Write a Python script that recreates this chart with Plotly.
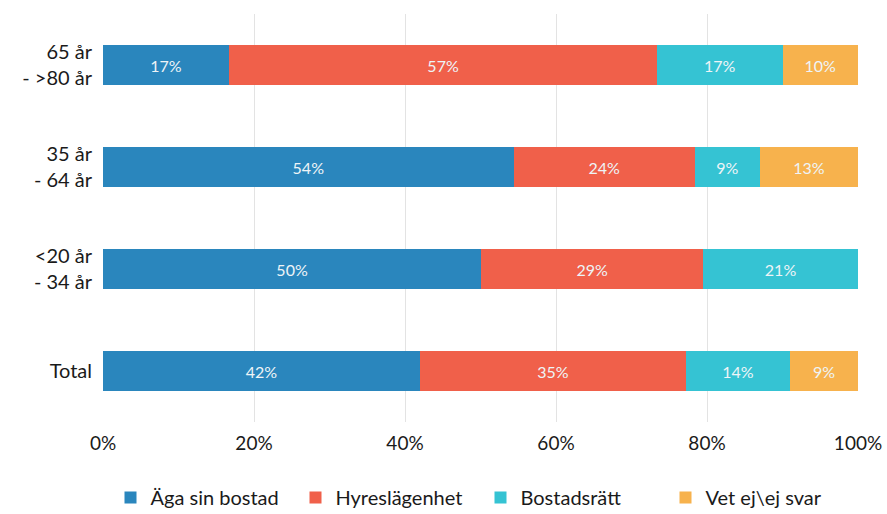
import plotly.graph_objects as go

# Age groups, top to bottom as drawn
categories = ["65 år<br>- >80 år", "35 år<br>- 64 år", "<20 år<br>- 34 år", "Total"]

series_names = ["Äga sin bostad", "Hyreslägenhet", "Bostadsrätt", "Vet ej\\ej svar"]

# Share of respondents per housing type (percent)
aga_sin_bostad = [16.7, 54.4, 50.1, 42.0]
hyreslagenhet = [56.7, 24.0, 29.4, 35.2]
bostadsratt = [16.6, 8.6, 20.5, 13.8]
vet_ej = [10.0, 13.0, None, 9.0]

tick_vals = [0, 20, 40, 60, 80, 100]
tick_text = ["0%", "20%", "40%", "60%", "80%", "100%"]

colors = ["#2A86BD", "#F0604A", "#35C3D3", "#F7B24D"]
series_values = [aga_sin_bostad, hyreslagenhet, bostadsratt, vet_ej]

fig = go.Figure()
for name, vals, col in zip(series_names, series_values, colors):
    fig.add_trace(go.Bar(
        y=categories,
        x=vals,
        name=name,
        orientation="h",
        marker=dict(color=col, line=dict(width=0)),
        texttemplate="%{x:.0f}%",
        textposition="inside",
        insidetextanchor="middle",
        textfont=dict(color="#EEF4F7", size=16, family="Lato, sans-serif"),
    ))

fig.update_layout(
    barmode="stack",
    bargap=0.6,
    width=887,
    height=514,
    margin=dict(l=103, r=29, t=14, b=92, autoexpand=False),
    plot_bgcolor="white",
    paper_bgcolor="white",
    font=dict(family="Lato, sans-serif", size=19, color="#1a1a1a"),
    legend=dict(
        orientation="h",
        x=0.5, xanchor="center",
        y=-0.185, yanchor="middle",
        font=dict(size=20),
        itemwidth=30,
        entrywidth=140,
        traceorder="normal",
    ),
    xaxis=dict(
        range=[0, 100],
        tickvals=tick_vals,
        ticktext=tick_text,
        tickfont=dict(size=19),
        showgrid=True,
        gridcolor="#E3E3E3",
        gridwidth=1,
        zeroline=False,
        showline=False,
        ticks="",
        ticklabelstandoff=8,
        automargin=False,
    ),
    yaxis=dict(
        autorange="reversed",
        showgrid=False,
        ticks="",
        tickfont=dict(size=20),
        ticklabelstandoff=10,
        automargin=False,
    ),
    uniformtext=dict(minsize=10, mode="show"),
)

fig.write_html("out.html")
